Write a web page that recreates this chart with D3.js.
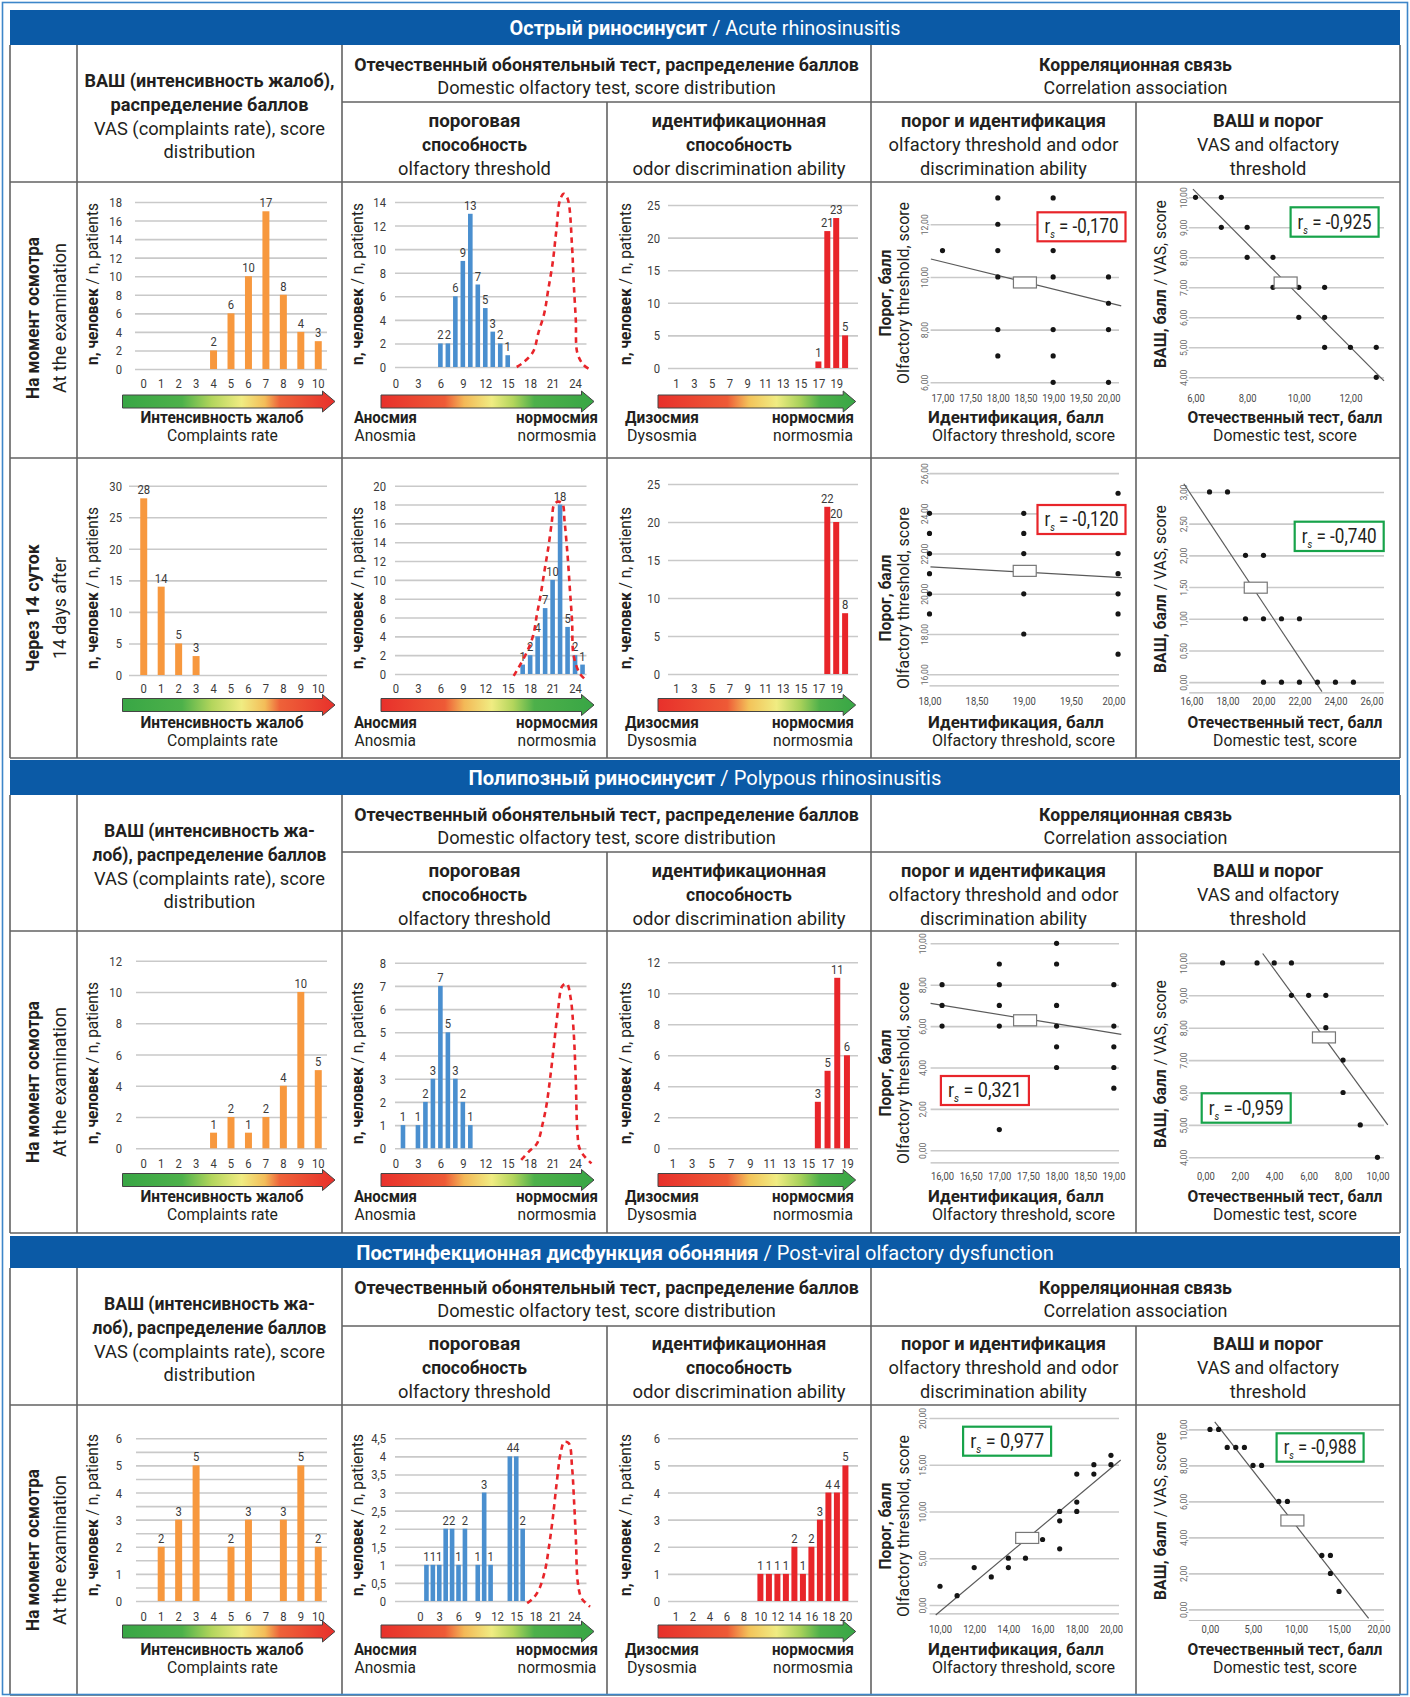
<!DOCTYPE html>
<html><head><meta charset="utf-8">
<script src="https://cdn.jsdelivr.net/npm/d3@7"></script>
<style>html,body{margin:0;padding:0;background:#fff}svg{display:block}</style>
</head><body>
<script>
// ================= DATA =================
const sectionTitleRu = ["Острый риносинусит", "Полипозный риносинусит", "Постинфекционная дисфункция обоняния"];
const sectionTitleEn = ["Acute rhinosinusitis", "Polypous rhinosinusitis", "Post-viral olfactory dysfunction"];
const rowLabelRu = ["На момент осмотра", "Через 14 суток", "На момент осмотра", "На момент осмотра"];
const rowLabelEn = ["At the examination", "14 days after", "At the examination", "At the examination"];

const colHeadVasRu = ["ВАШ (интенсивность жалоб),", "распределение баллов"];
const colHeadVasRuHyph = ["ВАШ (интенсивность жа-", "лоб), распределение баллов"];
const colHeadVasEn = ["VAS (complaints rate), score", "distribution"];
const colHeadTest = ["Отечественный обонятельный тест, распределение баллов", "Domestic olfactory test, score distribution"];
const colHeadCorr = ["Корреляционная связь", "Correlation association"];
const subHeadThr = ["пороговая", "способность", "olfactory threshold"];
const subHeadId = ["идентификационная", "способность", "odor discrimination ability"];
const subHeadThrId = ["порог и идентификация", "olfactory threshold and odor", "discrimination ability"];
const subHeadVasThr = ["ВАШ и порог", "VAS and olfactory", "threshold"];

// VAS (complaints), score 0..10
const vasScores = [0, 1, 2, 3, 4, 5, 6, 7, 8, 9, 10];
const vasAcuteExam = [0, 0, 0, 0, 2, 6, 10, 17, 8, 4, 3];
const vasAcuteDay14 = [28, 14, 5, 3, 0, 0, 0, 0, 0, 0, 0];
const vasPolypous = [0, 0, 0, 0, 1, 2, 1, 2, 4, 10, 5];
const vasPostViral = [0, 2, 3, 5, 0, 2, 3, 0, 3, 5, 2];
const vasYTicksAcuteExam = [0, 2, 4, 6, 8, 10, 12, 14, 16, 18];
const vasYTicksAcuteDay14 = [0, 5, 10, 15, 20, 25, 30];
const vasYTicksPolypous = [0, 2, 4, 6, 8, 10, 12];
const vasYTicksPostViral = [0, 1, 2, 3, 4, 5, 6];
const vasGridPostViral = [0, 0.5, 1, 1.5, 2, 2.5, 3, 3.5, 4, 4.5, 5, 5.5, 6];

// Olfactory threshold distribution
const thrXTicks = [0, 3, 6, 9, 12, 15, 18, 21, 24];
const thrAcuteExamScores = [6, 7, 8, 9, 10, 11, 12, 13, 14, 15];
const thrAcuteExamCounts = [2, 2, 6, 9, 13, 7, 5, 3, 2, 1];
const thrAcuteDay14Scores = [17, 18, 19, 20, 21, 22, 23, 24, 25];
const thrAcuteDay14Counts = [1, 2, 4, 7, 10, 18, 5, 2, 1];
const thrPolypousScores = [1, 3, 4, 5, 6, 7, 8, 9, 10];
const thrPolypousCounts = [1, 1, 2, 3, 7, 5, 3, 2, 1];
const thrPostViralScores = [1, 2, 3, 4, 5, 6, 7, 9, 10, 11, 14, 15, 16];
const thrPostViralCounts = [1, 1, 1, 2, 2, 1, 2, 1, 3, 1, 4, 4, 2];
const thrYTicksAcuteExam = [0, 2, 4, 6, 8, 10, 12, 14];
const thrYTicksAcuteDay14 = [0, 2, 4, 6, 8, 10, 12, 14, 16, 18, 20];
const thrYTicksPolypous = [0, 1, 2, 3, 4, 5, 6, 7, 8];
const thrYTicksPostViral = [0, 0.5, 1, 1.5, 2, 2.5, 3, 3.5, 4, 4.5];

// Normosmia reference curve (dashed red), [score, n]
const normAcuteExam = [[16.2, 0], [17.05, 0.36], [18.4, 1.3], [19.1, 2.9], [19.9, 4.6], [20.4, 6.5], [21.0, 8.8], [21.5, 11.6], [22.0, 14.2], [22.5, 14.7], [23.0, 14.3], [23.6, 10.2], [23.8, 7.4], [24.1, 4.0], [24.3, 1.2], [25.1, 0.2], [26.1, -0.25]];
const normAcuteDay14 = [[15.8, -0.2], [16.4, 0.6], [17.6, 2.4], [18.4, 4.1], [18.9, 6.3], [19.4, 8.4], [19.9, 10.9], [20.4, 13.3], [20.9, 16.2], [21.2, 18.0], [21.7, 18.3], [22.3, 18.1], [22.6, 16.2], [23.0, 12.6], [23.3, 9.1], [23.6, 5.6], [23.8, 2.0], [24.6, 0.1], [25.4, -0.6]];
const normPolypous = [[16.8, -0.5], [17.8, -0.15], [18.9, 0.2], [19.7, 1.1], [20.2, 1.9], [20.7, 3.1], [21.2, 4.5], [21.7, 5.9], [22.3, 7.0], [22.9, 7.1], [23.4, 6.5], [23.8, 5.1], [24.1, 2.9], [24.3, 0.8], [24.6, 0], [25.4, -0.4], [26.2, -0.65]];
const normPostViral = [[16.7, -0.06], [17.6, 0.07], [18.5, 0.3], [19.5, 0.86], [20.1, 1.5], [20.7, 2.3], [21.3, 3.26], [21.9, 4.08], [22.5, 4.4], [23.2, 4.36], [23.7, 3.7], [24.0, 2.8], [24.3, 1.7], [24.6, 0.5], [25.2, 0.07], [26.5, -0.16]];

// Odor identification distribution
const idXTicks = [1, 3, 5, 7, 9, 11, 13, 15, 17, 19];
const idXTicksPostViral = [0, 2, 4, 6, 8, 10, 12, 14, 16, 18, 20];
const idXLabelsPostViral = ["1", "2", "4", "6", "8", "10", "12", "14", "16", "18", "20"];
const idAcuteExamScores = [17, 18, 19, 20];
const idAcuteExamCounts = [1, 21, 23, 5];
const idAcuteDay14Scores = [18, 19, 20];
const idAcuteDay14Counts = [22, 20, 8];
const idPolypousScores = [16, 17, 18, 19];
const idPolypousCounts = [3, 5, 11, 6];
const idPostViralScores = [10, 11, 12, 13, 14, 15, 16, 17, 18, 19, 20];
const idPostViralCounts = [1, 1, 1, 1, 2, 1, 2, 3, 4, 4, 5];
const idYTicksAcute = [0, 5, 10, 15, 20, 25];
const idYTicksPolypous = [0, 2, 4, 6, 8, 10, 12];
const idYTicksPostViral = [0, 1, 2, 3, 4, 5, 6];

// Correlation scatter plots: [x, y]
const ptsA1 = [[17, 11], [18, 13], [18, 12], [18, 11], [18, 10], [18, 8], [18, 7], [19, 13], [19, 11], [19, 10], [19, 8], [19, 7], [19, 6], [20, 10], [20, 9], [20, 8], [20, 6]];
const ptsA2 = [[6, 10], [7, 10], [7, 9], [8, 9], [8, 8], [9, 8], [9, 7], [10, 7], [11, 7], [10, 6], [11, 6], [11, 5], [12, 5], [13, 5], [13, 4]];
const ptsB1 = [[18, 24], [18, 23], [18, 22], [18, 21], [18, 20], [18, 19], [19, 24], [19, 23], [19, 22], [19, 20], [19, 18], [20, 25], [20, 22], [20, 21], [20, 20], [20, 19], [20, 17]];
const ptsB2 = [[17, 3], [18, 3], [19, 2], [20, 2], [19, 1], [20, 1], [21, 1], [22, 1], [20, 0], [21, 0], [22, 0], [23, 0], [24, 0], [25, 0]];
const ptsC1 = [[16, 8], [16, 7], [16, 6], [17, 9], [17, 8], [17, 7], [17, 6], [17, 1], [18, 10], [18, 9], [18, 7], [18, 6], [18, 5], [18, 4], [19, 8], [19, 6], [19, 5], [19, 4], [19, 3]];
const ptsC2 = [[1, 10], [3, 10], [4, 10], [5, 10], [5, 9], [6, 9], [7, 9], [7, 8], [8, 7], [8, 6], [9, 5], [10, 4]];
const ptsD1 = [[10, 2], [11, 1], [12, 4], [13, 3], [14, 5], [14, 4], [15, 5], [16, 7], [17, 10], [17, 9], [17, 6], [18, 14], [18, 11], [18, 10], [19, 15], [19, 14], [20, 16], [20, 15]];
const ptsD2 = [[0, 10], [1, 10], [2, 9], [3, 9], [4, 9], [5, 8], [6, 8], [8, 6], [9, 6], [13, 3], [14, 3], [14, 2], [15, 1]];
const fitA1 = [[16.79, 10.68], [20.23, 8.9]], meanA1 = [18.49, 9.79];
const fitA2 = [[5.9, 10.27], [13.3, 3.88]], meanA2 = [9.49, 7.16];
const fitB1 = [[18.01, 21.34], [20.04, 20.8]], meanB1 = [19.01, 21.14];
const fitB2 = [[15.57, 3.13], [23.25, -0.15]], meanB2 = [19.57, 1.49];
const fitC1 = [[15.8, 7.1], [19.13, 5.6]], meanC1 = [17.45, 6.28];
const fitC2 = [[3.33, 10.29], [10.6, 5.0]], meanC2 = [6.89, 7.7];
const fitD1 = [[9.75, -1.07], [20.57, 15.5]], meanD1 = [15.1, 7.17];
const fitD2 = [[0.55, 10.42], [18.44, -0.5]], meanD2 = [9.58, 4.94];
const rsA1 = "-0,170", rsA2 = "-0,925", rsB1 = "-0,120", rsB2 = "-0,740";
const rsC1 = "0,321", rsC2 = "-0,959", rsD1 = "0,977", rsD2 = "-0,988";
const scXTicksA1 = [17, 17.5, 18, 18.5, 19, 19.5, 20], scYTicksA1 = [6, 8, 10, 12];
const scXTicksA2 = [6, 8, 10, 12], scYTicksA2 = [4, 5, 6, 7, 8, 9, 10];
const scXTicksB1 = [18, 18.5, 19, 19.5, 20], scYTicksB1 = [16, 18, 20, 22, 24, 26];
const scXTicksB2 = [16, 18, 20, 22, 24, 26], scYTicksB2 = [0, 0.5, 1, 1.5, 2, 2.5, 3];
const scXTicksC1 = [16, 16.5, 17, 17.5, 18, 18.5, 19], scYTicksC1 = [0, 2, 4, 6, 8, 10];
const scXTicksC2 = [0, 2, 4, 6, 8, 10], scYTicksC2 = [4, 5, 6, 7, 8, 9, 10];
const scXTicksD1 = [10, 12, 14, 16, 18, 20], scYTicksD1 = [0, 5, 10, 15, 20];
const scXTicksD2 = [0, 5, 10, 15, 20], scYTicksD2 = [0, 2, 4, 6, 8, 10];

// ================= DRAWING =================
const BLUE = "#0b5aa6", INK = "#231f20", GRID = "#c9c9c9", TICK = "#3a3a3a", LINE = "#626262";
const ORANGE = "#f7983e", BARBLUE = "#4a8fcf", RED = "#e8252a", GREENBOX = "#17a34a";
const FONT = "Roboto, 'Liberation Sans', 'DejaVu Sans', sans-serif";
const fmtComma = d => String(d).replace(".", ",");
const fmt2 = d => d3.format(".2f")(d).replace(".", ",");

const svg = d3.select("body").append("svg").attr("width", 1410).attr("height", 1697)
  .attr("font-family", FONT);
const defs = svg.append("defs");
function grad(id, stops) {
  const lg = defs.append("linearGradient").attr("id", id).attr("x1", "0%").attr("x2", "100%").attr("y1", "0%").attr("y2", "0%");
  stops.forEach(s => lg.append("stop").attr("offset", s[0]).attr("stop-color", s[1]));
}
grad("gCompl", [[0, "#38a645"], [0.28, "#4db14a"], [0.42, "#b3d55c"], [0.56, "#f0ec82"], [0.67, "#f3bd59"], [0.74, "#ee6239"], [1, "#e8302b"]]);
grad("gThr", [[0, "#e8302b"], [0.3, "#ee5a36"], [0.39, "#f3b857"], [0.52, "#f0ec82"], [0.62, "#b3d55c"], [0.72, "#4db04a"], [1, "#38a645"]]);
grad("gId", [[0, "#e8302b"], [0.35, "#ee5a36"], [0.46, "#f3c35a"], [0.6, "#f0ec82"], [0.72, "#a8d15a"], [0.82, "#4db04a"], [1, "#38a645"]]);

// text helper: parts = [[text, weight, size, dy, italic], ...]
function T(g, x, y, parts, o = {}) {
  const t = g.append("text").attr("text-anchor", o.anchor || "middle")
    .attr("font-size", o.size || 16).attr("fill", o.fill || INK).attr("font-family", FONT);
  if (typeof parts === "string") parts = [[parts, o.weight || 400]];
  parts.forEach(p => {
    const ts = t.append("tspan").attr("font-weight", p[1]).text(p[0]);
    if (p[2]) ts.attr("font-size", p[2]);
    if (p[3]) ts.attr("dy", p[3]);
    if (p[4]) ts.attr("font-style", "italic");
  });
  let sx = o.sx || 1;
  if (o.w) { const L = t.node().getComputedTextLength(); if (L > 0) sx = o.w / L; }
  t.attr("transform", `translate(${x},${y}) rotate(${o.rot || 0}) scale(${sx},1)`);
  return t;
}

function hline(x1, x2, y, c, w) { svg.append("line").attr("x1", x1).attr("x2", x2).attr("y1", y).attr("y2", y).attr("stroke", c || LINE).attr("stroke-width", w || 1.6); }
function vline(x, y1, y2, c, w) { svg.append("line").attr("x1", x).attr("x2", x).attr("y1", y1).attr("y2", y2).attr("stroke", c || LINE).attr("stroke-width", w || 1.6); }

// ---------- table ----------
const secL = [
  { hTop: 10, hBot: 45, split: 102, chBot: 182, bot: 758, breaks: [458] },
  { hTop: 760, hBot: 795, split: 852, chBot: 931, bot: 1233, breaks: [] },
  { hTop: 1236, hBot: 1268, split: 1326, chBot: 1405, bot: 1695, breaks: [] }
];
const titleW = [391, 473, 698];

secL.forEach((s, si) => {
  svg.append("rect").attr("x", 10).attr("y", s.hTop).attr("width", 1390).attr("height", s.hBot - s.hTop).attr("fill", BLUE);
  T(svg, 705, (s.hTop + s.hBot) / 2 + 7.5, [[sectionTitleRu[si], 700], [" / " + sectionTitleEn[si], 400]], { size: 21, fill: "#fff", w: titleW[si] });
  const t0 = s.hBot, b = 6.5;
  const vr = si === 0 ? colHeadVasRu : colHeadVasRuHyph;
  const vw = si === 0 ? [250, 198] : [211, 234];
  T(svg, 209.5, t0 + 35 + b, vr[0], { size: 19, weight: 700, w: vw[0] });
  T(svg, 209.5, t0 + 59 + b, vr[1], { size: 19, weight: 700, w: vw[1] });
  T(svg, 209.5, t0 + 83 + b, colHeadVasEn[0], { size: 19, w: 231 });
  T(svg, 209.5, t0 + 106.5 + b, colHeadVasEn[1], { size: 19, w: 92 });
  T(svg, 606.5, t0 + 19 + b, colHeadTest[0], { size: 19, weight: 700, w: 505 });
  T(svg, 606.5, t0 + 42.7 + b, colHeadTest[1], { size: 19, w: 339 });
  T(svg, 1135.5, t0 + 19 + b, colHeadCorr[0], { size: 19, weight: 700, w: 193 });
  T(svg, 1135.5, t0 + 42.7 + b, colHeadCorr[1], { size: 19, w: 184 });
  const subs = [
    [474.5, subHeadThr, [700, 700, 400], [92, 105, 153]],
    [739, subHeadId, [700, 700, 400], [174.5, 106, 213]],
    [1003.5, subHeadThrId, [700, 400, 400], [205, 230, 167]],
    [1268, subHeadVasThr, [700, 400, 400], [110, 142, 76.5]]
  ];
  subs.forEach(([cx, lines, ws, wd]) => {
    [75, 99, 123].forEach((dy, k) => T(svg, cx, t0 + dy + b, lines[k], { size: 19, weight: ws[k], w: wd[k] }));
  });
});

// ---------- rows ----------
const rowBox = [[182, 458], [458, 758], [931, 1233], [1405, 1695]];
const L = [
  { vasP: [202, 369], thrP: [202, 367], idP: [205, 368], vasGx0: 135, xlab: 383, arrow: 401.5, bold: 423, reg: 441, ytc: 284, sxlab: 398, st5: 293, st6: 284 },
  { vasP: [485.7, 675], thrP: [485.7, 674], idP: [484, 674], vasGx0: 129, xlab: 688.3, arrow: 705, bold: 728, reg: 746, ytc: 588, sxlab: 701.7, st5: 598, st6: 589 },
  { vasP: [960.7, 1148.3], thrP: [962.7, 1148.3], idP: [962.3, 1148.3], vasGx0: 136, xlab: 1163.3, arrow: 1180, bold: 1202, reg: 1220, ytc: 1063, sxlab: 1176.7, st5: 1073, st6: 1064 },
  { vasP: [1438.3, 1601], thrP: [1438.3, 1601], idP: [1438.3, 1601], vasGx0: 136, xlab: 1616, arrow: 1631.5, bold: 1655, reg: 1673, ytc: 1515, sxlab: 1629.3, st5: 1526, st6: 1516 }
];
const rowData = [
  { vas: vasAcuteExam, vasY: vasYTicksAcuteExam, vasG: vasYTicksAcuteExam, thrS: thrAcuteExamScores, thrN: thrAcuteExamCounts, thrY: thrYTicksAcuteExam, thrD: [0, 25.53], norm: normAcuteExam,
    idS: idAcuteExamScores, idN: idAcuteExamCounts, idY: idYTicksAcute, idD: [0.1, 21.45], idT: idXTicks, idL: idXTicks.map(String) },
  { vas: vasAcuteDay14, vasY: vasYTicksAcuteDay14, vasG: vasYTicksAcuteDay14, thrS: thrAcuteDay14Scores, thrN: thrAcuteDay14Counts, thrY: thrYTicksAcuteDay14, thrD: [0, 25.53], norm: normAcuteDay14,
    idS: idAcuteDay14Scores, idN: idAcuteDay14Counts, idY: idYTicksAcute, idD: [0.1, 21.45], idT: idXTicks, idL: idXTicks.map(String) },
  { vas: vasPolypous, vasY: vasYTicksPolypous, vasG: vasYTicksPolypous, thrS: thrPolypousScores, thrN: thrPolypousCounts, thrY: thrYTicksPolypous, thrD: [0, 25.53], norm: normPolypous,
    idS: idPolypousScores, idN: idPolypousCounts, idY: idYTicksPolypous, idD: [0.55, 20.14], idT: idXTicks, idL: idXTicks.map(String) },
  { vas: vasPostViral, vasY: vasYTicksPostViral, vasG: vasGridPostViral, thrS: thrPostViralScores, thrN: thrPostViralCounts, thrY: thrYTicksPostViral, thrD: [-3.9, 25.95], norm: normPostViral,
    idS: idPostViralScores, idN: idPostViralCounts, idY: idYTicksPostViral, idD: [-0.87, 21.48], idT: idXTicksPostViral, idL: idXLabelsPostViral }
];
const rowBoldW = [162, 128, 162, 162], rowRegW = [150, 102, 150, 150];

function gridAxis(g, y, ticks, x0, x1, color, width) {
  g.append("g").attr("transform", `translate(${x0},0)`)
    .call(d3.axisLeft(y).tickValues(ticks).tickSize(-(x1 - x0)).tickFormat(""))
    .call(s => { s.select(".domain").remove(); s.selectAll(".tick line").attr("stroke", color || GRID).attr("stroke-width", width || 1.6); });
}
function yLabels(g, y, ticks, xEnd, size, fmt) {
  g.append("g").attr("transform", `translate(${xEnd},0)`)
    .call(d3.axisLeft(y).tickValues(ticks).tickSize(0).tickPadding(0).tickFormat(fmt || fmtComma))
    .call(s => {
      s.select(".domain").remove(); s.attr("font-family", FONT).attr("font-size", size || 12.5);
      s.selectAll("text").attr("fill", TICK).attr("x", 0).attr("dy", "0.36em").attr("transform", "scale(0.9,1)");
    });
}
function xLabels(g, x, ticks, labels, yc, size) {
  g.append("g").attr("transform", `translate(0,${yc})`)
    .call(d3.axisBottom(x).tickValues(ticks).tickSize(0).tickPadding(0).tickFormat((d, i) => labels[i]))
    .call(s => {
      s.select(".domain").remove(); s.attr("font-family", FONT).attr("font-size", size || 12.5);
      s.selectAll("text").attr("fill", TICK).attr("y", 0).attr("dy", "0.36em").attr("transform", "scale(0.9,1)");
    });
}
function bars(g, xc, y, scores, counts, w, color, lsize) {
  const d = scores.map((s, i) => [s, counts[i]]).filter(e => e[1] > 0);
  g.selectAll(null).data(d).join("rect")
    .attr("x", e => xc(e[0]) - w / 2).attr("width", w)
    .attr("y", e => y(e[1])).attr("height", e => y(0) - y(e[1])).attr("fill", color);
  g.selectAll(null).data(d).join("text")
    .attr("transform", e => `translate(${xc(e[0])},${y(e[1]) - 4}) scale(0.9,1)`)
    .attr("text-anchor", "middle").attr("font-size", lsize || 12.5).attr("fill", TICK).text(e => e[1]);
}
function arrow(g, x0, x1, yc, gid) {
  const hl = 12.5, bh = 6.5, hh = 10.5;
  const p = `M${x0},${yc - bh}L${x1 - hl},${yc - bh}L${x1 - hl},${yc - hh}L${x1},${yc}L${x1 - hl},${yc + hh}L${x1 - hl},${yc + bh}L${x0},${yc + bh}Z`;
  g.append("path").attr("d", p).attr("fill", `url(#${gid})`).attr("stroke", "#444").attr("stroke-width", 1);
}
function yTitleN(g, x, yc) {
  T(g, x, yc, [["n, человек", 700], [" / n, patients", 400]], { size: 16, rot: -90, w: 162 });
}

const scatterCfg = {
  A1: { pts: ptsA1, fit: fitA1, mean: meanA1, rs: rsA1, col: RED, xt: scXTicksA1, yt: scYTicksA1, xd: [16.785, 20.19], xr: [930.6, 1119], yd: [5.7, 13.3], yr: [390.2, 190], base: false, rb: [1037.5, 212.3, 88, 29] },
  A2: { pts: ptsA2, fit: fitA2, mean: meanA2, rs: rsA2, col: GREENBOX, xt: scXTicksA2, yt: scYTicksA2, xd: [5.74, 13.3], xr: [1188.8, 1384], yd: [3.6, 10.6], yr: [389.3, 179.3], base: false, rb: [1290.6, 207.3, 88, 29.4] },
  B1: { pts: ptsB1, fit: fitB1, mean: meanB1, rs: rsB1, col: RED, xt: scXTicksB1, yt: scYTicksB1, xd: [18, 20.01], xr: [929.5, 1119], yd: [15.45, 26.2], yr: [685.3, 469.1], base: true, rb: [1037.5, 505, 88, 29] },
  B2: { pts: ptsB2, fit: fitB2, mean: meanB2, rs: rsB2, col: GREENBOX, xt: scXTicksB2, yt: scYTicksB2, xd: [15.87, 26.7], xr: [1189.2, 1384], yd: [-0.16, 3.25], yr: [692.3, 476.1], base: true, rb: [1294.7, 521.7, 89, 29.3] },
  C1: { pts: ptsC1, fit: fitC1, mean: meanC1, rs: rsC1, col: RED, xt: scXTicksC1, yt: scYTicksC1, xd: [15.8, 19.09], xr: [930.6, 1119], yd: [-0.58, 10.4], yr: [1162.3, 935], base: true, rb: [940.9, 1076, 88, 29] },
  C2: { pts: ptsC2, fit: fitC2, mean: meanC2, rs: rsC2, col: GREENBOX, xt: scXTicksC2, yt: scYTicksC2, xd: [-0.965, 10.38], xr: [1188.8, 1384], yd: [3.8, 10.7], yr: [1163.8, 940.2], base: false, rb: [1201.7, 1093.3, 89, 29.4] },
  D1: { pts: ptsD1, fit: fitD1, mean: meanD1, rs: rsD1, col: GREENBOX, xt: scXTicksD1, yt: scYTicksD1, xd: [9.386, 20.47], xr: [929.5, 1119], yd: [-0.89, 21], yr: [1613.3, 1408.6], base: true, rb: [963.1, 1426.7, 88, 29] },
  D2: { pts: ptsD2, fit: fitD2, mean: meanD2, rs: rsD2, col: GREENBOX, xt: scXTicksD2, yt: scYTicksD2, xd: [-2.465, 20.23], xr: [1188.8, 1384], yd: [-0.59, 10.6], yr: [1620, 1418.6], base: true, rb: [1276.6, 1433.3, 87, 28.4] }
};
const scatterRows = [["A1", "A2"], ["B1", "B2"], ["C1", "C2"], ["D1", "D2"]];

function scatter(g, c, ylx, xly) {
  const x = d3.scaleLinear().domain(c.xd).range(c.xr);
  const y = d3.scaleLinear().domain(c.yd).range(c.yr);
  gridAxis(g, y, c.yt, c.xr[0], c.xr[1], GRID, 1.6);
  if (c.base) gridAxis(g, y, [c.yd[0]], c.xr[0], c.xr[1], "#bdbdbd", 1.2);
  g.append("g").attr("transform", `translate(${ylx},0)`)
    .call(d3.axisLeft(y).tickValues(c.yt).tickSize(0).tickFormat(fmt2))
    .call(s => {
      s.select(".domain").remove(); s.attr("font-family", FONT).attr("font-size", 9.8);
      s.selectAll("text").attr("x", 0).attr("dy", "0.35em").attr("text-anchor", "middle").attr("fill", "#6a6a6a")
        .attr("transform", "rotate(-90) scale(0.88,1)");
    });
  const limit = c.xr[1] + 6;
  g.append("g").attr("transform", `translate(0,${xly})`)
    .call(d3.axisBottom(x).tickValues(c.xt).tickSize(0).tickPadding(0).tickFormat(fmt2))
    .call(s => {
      s.select(".domain").remove(); s.attr("font-family", FONT).attr("font-size", 10.5);
      s.selectAll("text").attr("y", 0).attr("dy", "0.36em").attr("fill", "#4a4a4a")
        .attr("transform", function (d) {
          const half = this.getComputedTextLength() * 0.9 / 2;
          const over = x(d) + half - limit;
          return `translate(${over > 0 ? -over : 0},0) scale(0.9,1)`;
        });
    });
  g.append("line").attr("x1", x(c.fit[0][0])).attr("y1", y(c.fit[0][1])).attr("x2", x(c.fit[1][0])).attr("y2", y(c.fit[1][1]))
    .attr("stroke", "#5a5a5a").attr("stroke-width", 1.2);
  g.selectAll(null).data(c.pts).join("circle").attr("cx", d => x(d[0])).attr("cy", d => y(d[1])).attr("r", 2.6).attr("fill", "#151515");
  g.append("rect").attr("x", x(c.mean[0]) - 11.5).attr("y", y(c.mean[1]) - 5.5).attr("width", 23).attr("height", 11)
    .attr("fill", "#fff").attr("stroke", "#777").attr("stroke-width", 1.2);
  const [bx, by, bw, bh] = c.rb;
  g.append("rect").attr("x", bx).attr("y", by).attr("width", bw).attr("height", bh).attr("fill", "#fff").attr("stroke", c.col).attr("stroke-width", 2.2);
  T(g, bx + bw / 2, by + bh / 2 + 6.5, [["r", 400], ["s", 400, 11, 5, true], [" = " + c.rs, 400, null, -5]], { size: 20, w: bw - 14 });
}

rowData.forEach((R, ri) => {
  const g = svg.append("g");
  const l = L[ri], rb = rowBox[ri], rc = (rb[0] + rb[1]) / 2 + (ri === 0 ? -2 : 0);
  // row label
  T(g, 39, rc, rowLabelRu[ri], { size: 19, weight: 700, rot: -90, w: rowBoldW[ri] });
  T(g, 66, rc, rowLabelEn[ri], { size: 19, rot: -90, w: rowRegW[ri] });

  // --- VAS chart ---
  {
    const x = d3.scaleBand().domain(vasScores).range([135, 327]).paddingInner(0.6).paddingOuter(0.3);
    const y = d3.scaleLinear().domain([0, d3.max(R.vasY)]).range([l.vasP[1], l.vasP[0]]);
    gridAxis(g, y, R.vasG, l.vasGx0, 327);
    yLabels(g, y, R.vasY, 122, 12.5);
    xLabels(g, x, vasScores, vasScores.map(String), l.xlab, 12.5);
    bars(g, d => x(d) + x.bandwidth() / 2, y, vasScores, R.vas, x.bandwidth(), ORANGE);
    yTitleN(g, 98, l.ytc);
    arrow(g, 122.5, 335, l.arrow, "gCompl");
    T(g, 222, l.bold, "Интенсивность жалоб", { size: 16.5, weight: 700, w: 163 });
    T(g, 222.5, l.reg, "Complaints rate", { size: 16.5, w: 111 });
  }
  // --- threshold chart ---
  {
    const x = d3.scaleLinear().domain(R.thrD).range([ri === 3 ? 395 : 395.5, 586.5]);
    const y = d3.scaleLinear().domain([0, d3.max(R.thrY)]).range([l.thrP[1], l.thrP[0]]);
    gridAxis(g, y, R.thrY, 395, 586.5);
    yLabels(g, y, R.thrY, 386, 12.5);
    xLabels(g, x, thrXTicks, thrXTicks.map(String), l.xlab, 12.5);
    bars(g, x, y, R.thrS, R.thrN, 4.6, BARBLUE);
    g.append("path").datum(R.norm)
      .attr("d", d3.line().x(d => x(d[0])).y(d => y(d[1])).curve(d3.curveCatmullRom.alpha(0.5)))
      .attr("fill", "none").attr("stroke", RED).attr("stroke-width", 2.6).attr("stroke-dasharray", "5.5,4.5");
    yTitleN(g, 363, l.ytc);
    arrow(g, 381, 594, l.arrow, "gThr");
    T(g, 354, l.bold, "Аносмия", { size: 16.5, weight: 700, anchor: "start", w: 63 });
    T(g, 598, l.bold, "нормосмия", { size: 16.5, weight: 700, anchor: "end", w: 82 });
    T(g, 354.5, l.reg, "Anosmia", { size: 16.5, anchor: "start", w: 61.5 });
    T(g, 596.5, l.reg, "normosmia", { size: 16.5, anchor: "end", w: 79 });
  }
  // --- identification chart ---
  {
    const x = d3.scaleLinear().domain(R.idD).range([668, 858]);
    const y = d3.scaleLinear().domain([0, d3.max(R.idY)]).range([l.idP[1], l.idP[0]]);
    gridAxis(g, y, R.idY, 668, 858);
    yLabels(g, y, R.idY, 660, 12.5);
    xLabels(g, x, R.idT, R.idL, l.xlab, 12.5);
    bars(g, x, y, R.idS, R.idN, 6, RED);
    yTitleN(g, 631, l.ytc);
    arrow(g, 658, 855.7, l.arrow, "gId");
    T(g, 625, l.bold, "Дизосмия", { size: 16.5, weight: 700, anchor: "start", w: 74 });
    T(g, 854, l.bold, "нормосмия", { size: 16.5, weight: 700, anchor: "end", w: 82 });
    T(g, 627, l.reg, "Dysosmia", { size: 16.5, anchor: "start", w: 70 });
    T(g, 853, l.reg, "normosmia", { size: 16.5, anchor: "end", w: 80 });
  }
  // --- correlation: threshold vs identification ---
  {
    const c = scatterCfg[scatterRows[ri][0]];
    scatter(g, c, ri < 2 ? 924.4 : 922.8, l.sxlab);
    T(g, 891, l.st5, "Порог, балл", { size: 17, weight: 700, rot: -90, w: 87 });
    T(g, 909, l.st5, "Olfactory threshold, score", { size: 17, rot: -90, w: 182 });
    T(g, 1016, l.bold, "Идентификация, балл", { size: 16.5, weight: 700, w: 176 });
    T(g, 1023.5, l.reg, "Olfactory threshold, score", { size: 16.5, w: 183 });
  }
  // --- correlation: VAS vs domestic test ---
  {
    const c = scatterCfg[scatterRows[ri][1]];
    scatter(g, c, 1183.7, l.sxlab);
    T(g, 1166, l.st6, [["ВАШ, балл", 700], [" / VAS, score", 400]], { size: 17, rot: -90, w: 168 });
    T(g, 1285, l.bold, "Отечественный тест, балл", { size: 16.5, weight: 700, w: 195 });
    T(g, 1285, l.reg, "Domestic test, score", { size: 16.5, w: 144 });
  }
});

// ---------- table lines ----------
secL.forEach(s => {
  hline(342, 1400, s.split);
  hline(10, 1400, s.chBot);
  s.breaks.forEach(yb => hline(10, 1400, yb));
  hline(10, 1400, s.bot);
  [10, 77, 342, 871, 1400].forEach(xv => vline(xv, s.hBot, s.bot));
  [607, 1136].forEach(xv => vline(xv, s.split, s.bot));
});
// outer frame
svg.append("rect").attr("x", 2.5).attr("y", 2.5).attr("width", 1405).attr("height", 1692).attr("fill", "none")
  .attr("stroke", "#3d86c9").attr("stroke-width", 1.6);
</script>
</body></html>
